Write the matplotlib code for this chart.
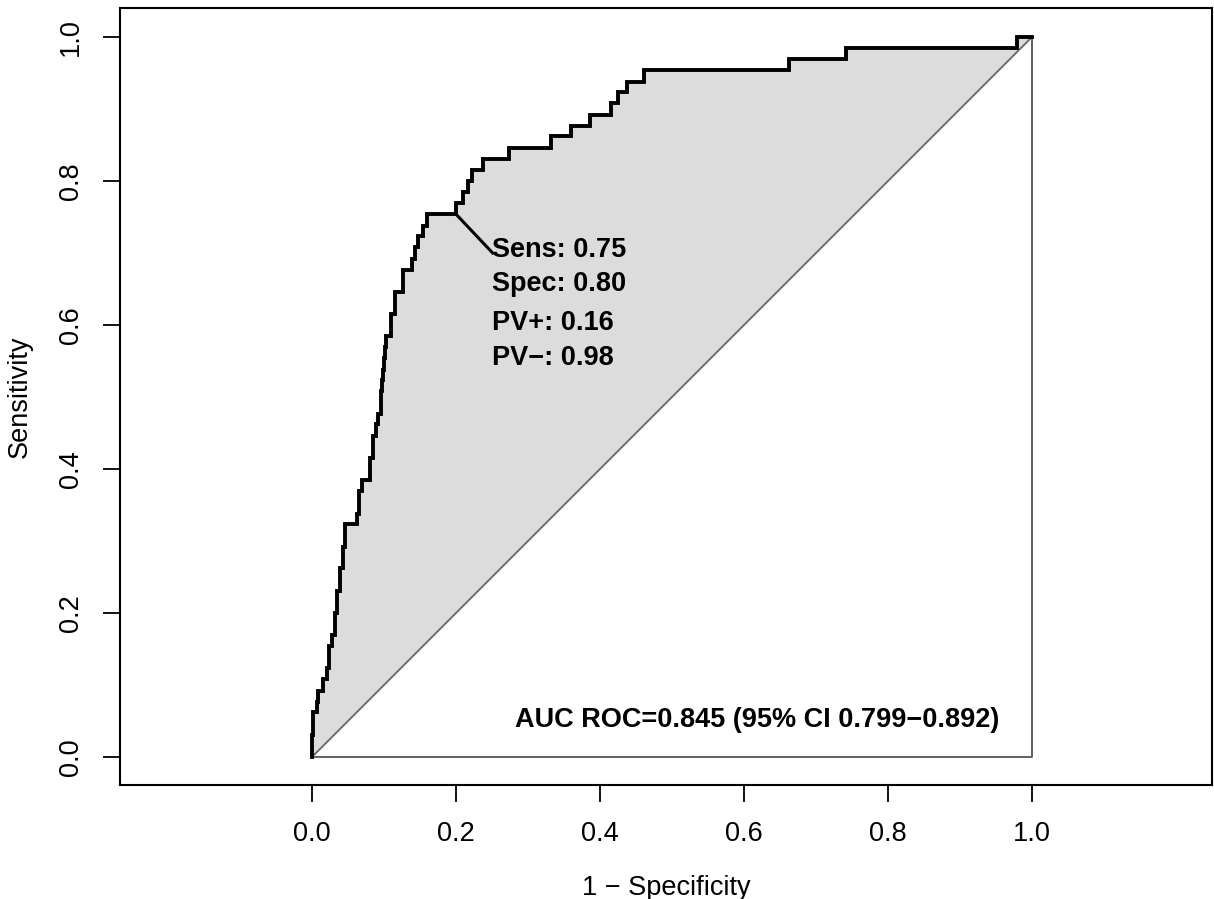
import matplotlib
matplotlib.use("Agg")
import matplotlib.pyplot as plt

plt.rcParams['font.family'] = ['Liberation Sans', 'DejaVu Sans']

# ROC curve vertices (1 - specificity, sensitivity)
fpr = [0.000, 0.000, 0.001, 0.001, 0.007, 0.007, 0.008, 0.008, 0.015, 0.015,
       0.021, 0.021, 0.024, 0.024, 0.028, 0.028, 0.032, 0.032, 0.035, 0.035,
       0.039, 0.039, 0.043, 0.043, 0.046, 0.046, 0.063, 0.063, 0.065, 0.065,
       0.069, 0.069, 0.081, 0.081, 0.085, 0.085, 0.089, 0.089, 0.092, 0.092,
       0.096, 0.096, 0.097, 0.097, 0.099, 0.099, 0.100, 0.100, 0.101, 0.101,
       0.103, 0.103, 0.110, 0.110, 0.115, 0.115, 0.126, 0.126, 0.139, 0.139,
       0.143, 0.143, 0.147, 0.147, 0.154, 0.154, 0.160, 0.160, 0.200, 0.200,
       0.210, 0.210, 0.217, 0.217, 0.222, 0.222, 0.238, 0.238, 0.274, 0.274,
       0.332, 0.332, 0.360, 0.360, 0.386, 0.386, 0.415, 0.415, 0.425, 0.425,
       0.438, 0.438, 0.461, 0.461, 0.663, 0.663, 0.742, 0.742, 0.979, 0.979,
       1.000]
tpr = [0.000, 0.031, 0.031, 0.062, 0.062, 0.077, 0.077, 0.092, 0.092, 0.108,
       0.108, 0.123, 0.123, 0.154, 0.154, 0.169, 0.169, 0.200, 0.200, 0.231,
       0.231, 0.262, 0.262, 0.292, 0.292, 0.323, 0.323, 0.338, 0.338, 0.369,
       0.369, 0.385, 0.385, 0.415, 0.415, 0.446, 0.446, 0.462, 0.462, 0.477,
       0.477, 0.508, 0.508, 0.523, 0.523, 0.538, 0.538, 0.554, 0.554, 0.569,
       0.569, 0.585, 0.585, 0.615, 0.615, 0.646, 0.646, 0.677, 0.677, 0.692,
       0.692, 0.708, 0.708, 0.723, 0.723, 0.738, 0.738, 0.754, 0.754, 0.769,
       0.769, 0.785, 0.785, 0.800, 0.800, 0.815, 0.815, 0.831, 0.831, 0.846,
       0.846, 0.862, 0.862, 0.877, 0.877, 0.892, 0.892, 0.908, 0.908, 0.923,
       0.923, 0.938, 0.938, 0.954, 0.954, 0.969, 0.969, 0.985, 0.985, 1.000,
       1.000]

# best threshold
thr_fpr = 0.200
thr_tpr = 0.754
thr_labels = ["Sens: 0.75", "Spec: 0.80", "PV+: 0.16", "PV\u2212: 0.98"]
auc_label = "AUC ROC=0.845 (95% CI 0.799\u22120.892)"
ticks = [0.0, 0.2, 0.4, 0.6, 0.8, 1.0]

fs = 19.5
fig = plt.figure(figsize=(12.14, 8.99), dpi=100)
ax = fig.add_axes([0.0988, 0.1268, 0.8995, 0.8643])
ax.set_xlim(-0.2667, 1.25)
ax.set_ylim(-0.0389, 1.0403)

# area between curve and diagonal
ax.fill_between(fpr, tpr, fpr, color='#DCDCDC', lw=0, zorder=1)
# polygon outline (right side and bottom)
ax.plot([1, 1, 0], [1, 0, 0], color='#555555', lw=1.3, zorder=2)
# identity line
ax.plot([0, 1], [0, 1], color='#666666', lw=1.3, zorder=2)
# ROC curve
ax.plot(fpr, tpr, color='black', lw=2.8, zorder=3, solid_joinstyle='miter')

# threshold annotation
ax.plot([thr_fpr, 0.251], [thr_tpr, 0.700], color='black', lw=2.2, zorder=3)
label_y = [0.704, 0.657, 0.603, 0.554]
for lab, yy in zip(thr_labels, label_y):
    ax.text(0.25, yy, lab, ha='left', va='center', fontsize=fs,
            fontweight='bold', zorder=4)

ax.text(0.619, 0.051, auc_label, ha='center', va='center', fontsize=fs,
        fontweight='bold', zorder=4)

ax.set_xticks(ticks)
ax.set_yticks(ticks)
ax.set_xticklabels([f"{t:.1f}" for t in ticks], fontsize=fs)
ax.set_yticklabels([f"{t:.1f}" for t in ticks], fontsize=fs, rotation=90,
                   va='center')
ax.tick_params(direction='out', length=12, width=1.3, pad=14)
for s in ax.spines.values():
    s.set_linewidth(1.5)

ax.set_xlabel("1 \u2212 Specificity", fontsize=fs, labelpad=20)
ax.set_ylabel("Sensitivity", fontsize=fs, labelpad=18)

fig.savefig("out.png", dpi=100)
